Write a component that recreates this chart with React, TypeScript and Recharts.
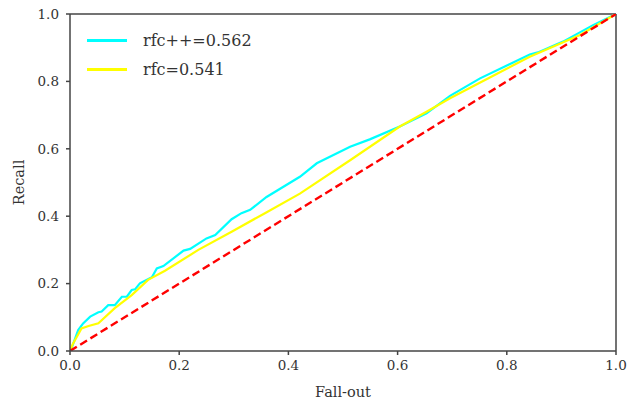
import React from 'react';
import { LineChart, Line, XAxis, YAxis, ReferenceLine, Label } from 'recharts';

const rfcPlusFpr = [0, 0.004, 0.015, 0.024, 0.037, 0.052, 0.058, 0.070, 0.082, 0.095, 0.104, 0.113, 0.119, 0.128, 0.150, 0.159, 0.171, 0.208, 0.220, 0.250, 0.266, 0.296, 0.314, 0.330, 0.360, 0.421, 0.452, 0.513, 0.549, 0.604, 0.653, 0.696, 0.751, 0.842, 0.857, 0.903, 0.958, 1];
const rfcPlusTpr = [0, 0.013, 0.062, 0.082, 0.102, 0.115, 0.117, 0.136, 0.136, 0.161, 0.161, 0.181, 0.183, 0.201, 0.219, 0.245, 0.252, 0.298, 0.303, 0.334, 0.344, 0.391, 0.409, 0.419, 0.457, 0.517, 0.557, 0.606, 0.628, 0.666, 0.705, 0.757, 0.809, 0.880, 0.886, 0.918, 0.967, 1];

const rfcFpr = [0, 0.005, 0.021, 0.034, 0.052, 0.082, 0.113, 0.143, 0.174, 0.235, 0.296, 0.357, 0.421, 0.513, 0.604, 0.653, 0.696, 0.842, 0.934, 1];
const rfcTpr = [0, 0.02, 0.067, 0.074, 0.082, 0.127, 0.166, 0.211, 0.238, 0.300, 0.354, 0.409, 0.467, 0.566, 0.666, 0.710, 0.750, 0.873, 0.938, 1];

const chanceFpr = [0, 1];
const chanceTpr = [0, 1];

const ticks = [0, 0.2, 0.4, 0.6, 0.8, 1.0];
const seriesNames = ['rfc++=0.562', 'rfc=0.541'];
const seriesColors = ['#00ffff', '#ffff00'];

const toRows = (xs: number[], ys: number[]) => xs.map((x, i) => ({ x, y: ys[i] }));

const FONT = 'DejaVu Serif';
const AXIS = '#444444';
const TEXT = '#333333';

export default function App() {
  const fmt = (v: number) => v.toFixed(1);
  return (
    <div style={{ position: 'absolute', left: 0, top: 0, width: 627, height: 401, background: '#fff' }}>
      <LineChart width={627} height={401} margin={{ top: 14, right: 11, bottom: 0, left: 0 }}>
        <XAxis
          type="number"
          dataKey="x"
          domain={[0, 1]}
          ticks={ticks}
          tickFormatter={fmt}
          allowDataOverflow
          height={50}
          stroke={AXIS}
          strokeWidth={1.5}
          tickSize={4}
          tickMargin={5}
          tick={{ fill: TEXT, fontFamily: FONT, fontSize: 13.5 }}
        >
          <Label value="Fall-out" position="insideBottom" offset={4} style={{ fill: TEXT, fontFamily: FONT, fontSize: 14.5 }} />
        </XAxis>
        <YAxis
          type="number"
          dataKey="y"
          domain={[0, 1]}
          ticks={ticks}
          tickFormatter={fmt}
          allowDataOverflow
          width={70}
          stroke={AXIS}
          strokeWidth={1.5}
          tickSize={4}
          tickMargin={7}
          tick={{ fill: TEXT, fontFamily: FONT, fontSize: 13.5 }}
        >
          <Label value="Recall" angle={-90} position="insideLeft" offset={19} style={{ fill: TEXT, fontFamily: FONT, fontSize: 14.5, textAnchor: 'middle' }} />
        </YAxis>
        <ReferenceLine y={1} stroke={AXIS} strokeWidth={1.5} ifOverflow="visible" />
        <ReferenceLine x={1} stroke={AXIS} strokeWidth={1.5} ifOverflow="visible" />
        <Line data={toRows(rfcPlusFpr, rfcPlusTpr)} dataKey="y" stroke={seriesColors[0]} strokeWidth={2.2} dot={false} isAnimationActive={false} name={seriesNames[0]} />
        <Line data={toRows(rfcFpr, rfcTpr)} dataKey="y" stroke={seriesColors[1]} strokeWidth={2.2} dot={false} isAnimationActive={false} name={seriesNames[1]} />
        <Line data={toRows(chanceFpr, chanceTpr)} dataKey="y" stroke="#ff0000" strokeWidth={2.4} strokeDasharray="8 4" dot={false} isAnimationActive={false} legendType="none" />
      </LineChart>
      <div style={{ position: 'absolute', left: 87, top: 26, fontFamily: FONT, fontSize: 16, color: TEXT }}>
        {seriesNames.map((n, i) => (
          <div key={n} style={{ display: 'flex', alignItems: 'center', height: 29 }}>
            <div style={{ width: 40, height: 2.2, background: seriesColors[i], marginRight: 16 }} />
            <span>{n}</span>
          </div>
        ))}
      </div>
    </div>
  );
}
